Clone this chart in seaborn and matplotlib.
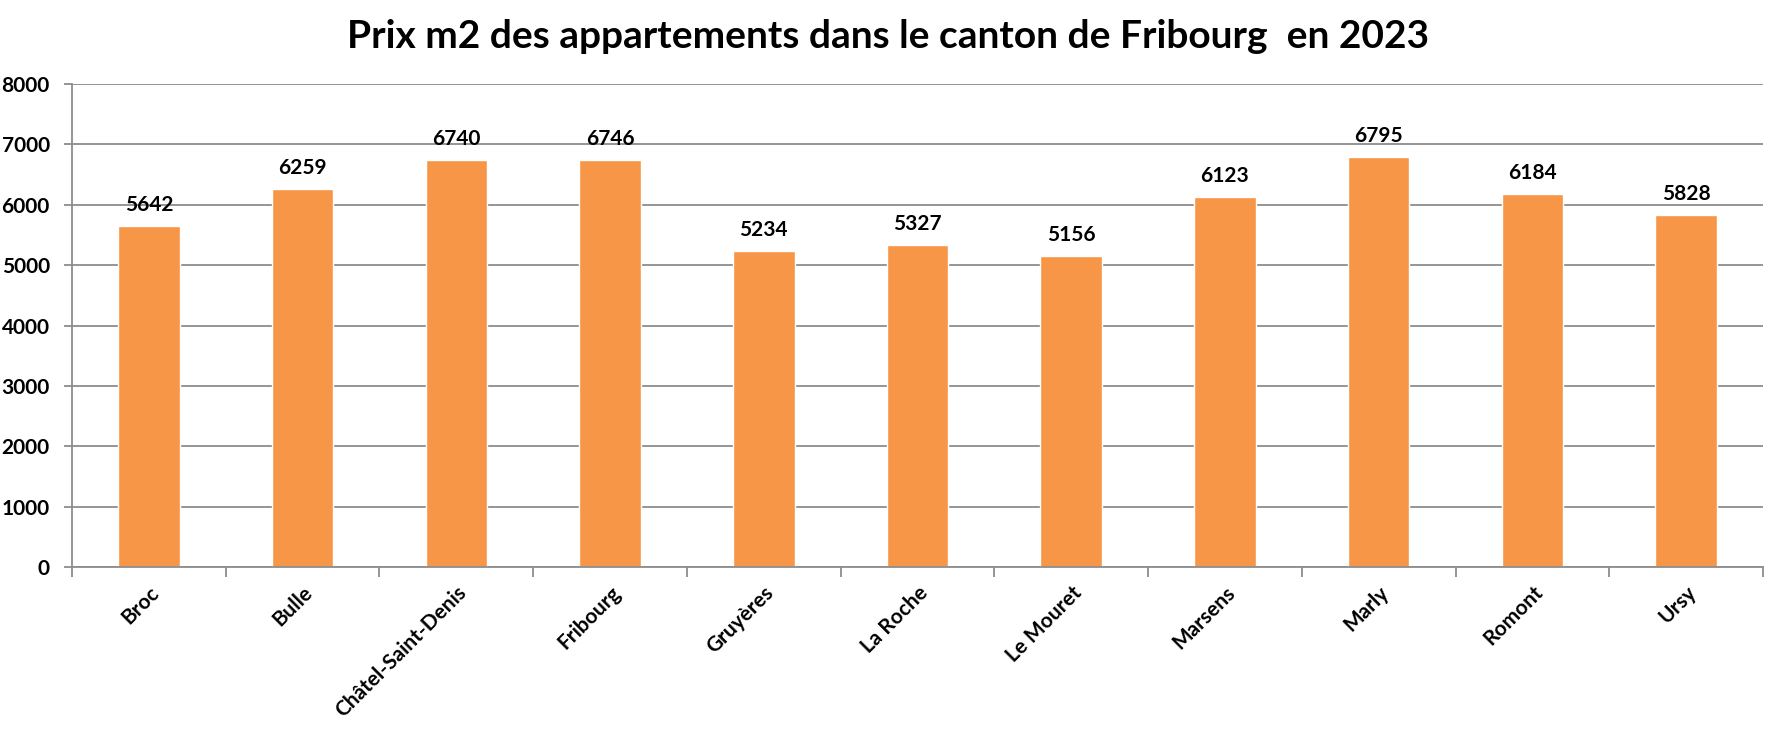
import matplotlib
matplotlib.use("Agg")
import matplotlib.pyplot as plt
import seaborn as sns
import pandas as pd
from matplotlib.ticker import FixedLocator, MultipleLocator

categories = ["Broc", "Bulle", "Châtel-Saint-Denis", "Fribourg", "Gruyères", "La Roche",
              "Le Mouret", "Marsens", "Marly", "Romont", "Ursy"]
values = [5642, 6259, 6740, 6746, 5234, 5327, 5156, 6123, 6795, 6184, 5828]
title = "Prix m2 des appartements dans le canton de Fribourg  en 2023"

sns.set_theme(style="white")
plt.rcParams['font.family'] = ['Lato', 'DejaVu Sans']

df = pd.DataFrame({"ville": categories, "prix": values})

fig = plt.figure(figsize=(17.77, 7.30), dpi=100)
ax = fig.add_axes([72/1777, 1-567/730, (1763-72)/1777, (567-84)/730])

sns.barplot(data=df, x="ville", y="prix", color="#F79646", saturation=1, width=0.4, ax=ax)

ax.set_ylim(0, 8000)
ax.set_xlim(-0.5, len(categories)-0.5)
ax.yaxis.set_major_locator(MultipleLocator(1000))
ax.grid(axis="y", color="#8C8C8C", linewidth=1.3)
ax.set_axisbelow(True)
for s in ["top", "right"]:
    ax.spines[s].set_visible(False)
for s in ["left", "bottom"]:
    ax.spines[s].set_color("#8C8C8C")
    ax.spines[s].set_linewidth(1.3)

ax.set_xlabel("")
ax.set_ylabel("")
ax.tick_params(axis="y", which="major", length=6, width=1.3, color="#8C8C8C", pad=10,
               labelsize=15, left=True)
ax.tick_params(axis="x", which="major", length=0, pad=11, labelsize=15)
ax.xaxis.set_minor_locator(FixedLocator([i - 0.5 for i in range(len(categories)+1)]))
ax.tick_params(axis="x", which="minor", length=7, width=1.3, color="#8C8C8C", bottom=True)
for lab in ax.get_yticklabels():
    lab.set_fontweight("bold")
    lab.set_color("black")
ax.set_xticks(range(len(categories)))
ax.set_xticklabels(categories, rotation=45, ha="right", rotation_mode="anchor",
                   fontweight="bold", fontsize=15, color="black")

for i, v in enumerate(values):
    ax.annotate(str(v), (i, v), xytext=(0, 8), textcoords="offset points",
                ha="center", va="bottom", fontsize=15, fontweight="bold", color="black")

fig.text(0.5, 1-37/730, title, ha="center", va="center", fontsize=28, fontweight="bold",
         color="black")

fig.savefig("out.png", dpi=100, facecolor="white")
